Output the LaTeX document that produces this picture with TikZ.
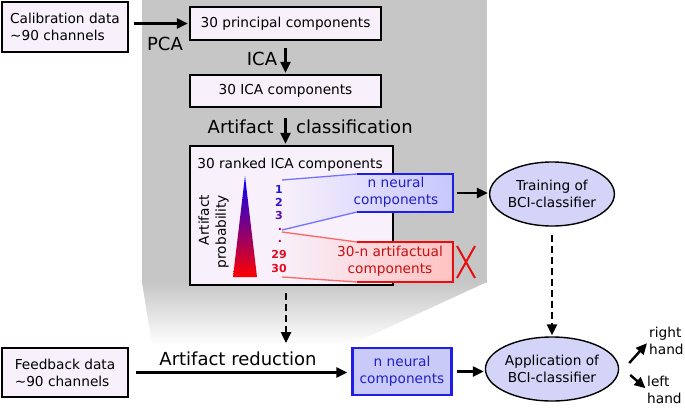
\documentclass[tikz,border=0pt]{standalone}
\usepackage{fontspec}
\setmainfont{DejaVu Sans}
\usetikzlibrary{arrows.meta,shapes.geometric,calc}
\definecolor{bgray}{HTML}{C6C6C6}
\definecolor{lav}{HTML}{F8F0FA}
\definecolor{ellfill}{HTML}{D4D4F8}
\definecolor{nnfill}{HTML}{CACAF8}
\definecolor{nblue}{HTML}{1E1EE6}
\definecolor{nred}{HTML}{E60E0E}
\definecolor{ntxtblue}{HTML}{2020C8}
\definecolor{ntxtred}{HTML}{C81010}
\definecolor{cA}{HTML}{1A1AE0}
\definecolor{cB}{HTML}{3010D0}
\definecolor{cC}{HTML}{5A10A8}
\definecolor{cD}{HTML}{8A0A70}
\definecolor{cE}{HTML}{B00A50}
\definecolor{cF}{HTML}{E80A20}
\newcommand\myfs{\fontsize{13.7}{17}\selectfont}
\newcommand\mybigfs{\fontsize{18}{20}\selectfont}
\begin{document}
\begin{tikzpicture}[x=1pt,y=-1pt,
  box/.style={draw=black, line width=2.2pt, fill=lav, inner sep=0pt, font=\myfs, align=center},
  lbl/.style={font=\mybigfs, inner sep=0pt},
  txt/.style={font=\myfs, inner sep=0pt, align=center},
  arr/.style={line width=2.4pt, -{Triangle[length=11pt,width=10pt]}},
  darr/.style={arr, dash pattern=on 7pt off 4pt},
  ell/.style={ellipse, draw=black, line width=1.4pt, fill=ellfill, minimum width=110pt, minimum height=64pt, inner sep=0pt, align=center, font=\myfs},
  num/.style={font=\fontsize{11}{12}\selectfont\bfseries, inner sep=0pt}
]
\useasboundingbox (0,0) rectangle (685,407);
% gray magnification background
\fill[bgray] (142,0) rectangle (487,283);
\shade[top color=bgray, bottom color=white] (142,282) -- (487,282) -- (350,345) -- (152,345) -- cycle;

% top chain
\node[box, minimum width=126pt, minimum height=50pt, align=left] (cal) at (65,27) {Calibration data\\\textasciitilde 90 channels};
\node[box, minimum width=191pt, minimum height=33pt] (pc) at (285.5,23.5) {30 principal components};
\node[box, minimum width=191pt, minimum height=32pt] (ica) at (285.5,91) {30 ICA components};
\node[box, minimum width=203pt, minimum height=139pt] (big) at (291.5,215.5) {};

\draw[arr, shorten <=5pt, shorten >=1pt] (cal.east |- pc.west) -- (pc.west);
\node[lbl] (pca) at (165,43.5) {PCA};
\draw[arr, shorten <=7pt, shorten >=1pt] (pc.south) -- (ica.north);
\node[lbl] (icalbl) at (262,59) {ICA};
\draw[arr, shorten <=10pt, shorten >=1pt] (ica.south) -- (ica.south |- big.north);
\node[lbl, anchor=east] (acl1) at (274,127) {Artifact};
\node[lbl, anchor=west] (acl2) at (296,127) {classification};

% inside big box
\node[font=\myfs, inner sep=0pt, anchor=base] (rk) at (290,168.5) {30 ranked ICA components};
\shade[top color=blue, bottom color=red] (245,176) -- (257,277) -- (233,277) -- cycle;
\node[txt, rotate=90, align=right] (ap) at (213.5,231.5) {Artifact\\probability};

% funnels
\shade[left color=lav, right color=blue!22] (282,180) -- (357,174) -- (453,174) -- (453,212) -- (357,212) -- (282,230) -- cycle;
\draw[blue!55, line width=1.3pt] (282,180) -- (357,174) (282,230) -- (357,212);
\draw[nblue, line width=2pt] (357,174) -- (453,174) -- (453,212) -- (357,212);
\shade[left color=lav, right color=red!24] (282,232) -- (357,242) -- (453,242) -- (453,282) -- (357,282) -- (282,277) -- cycle;
\draw[red!60, line width=1.3pt] (282,232) -- (357,242) (282,277) -- (357,282);
\draw[nred, line width=2pt] (357,242) -- (453,242) -- (453,282) -- (357,282);
\node[minimum width=96pt, minimum height=38pt, inner sep=0pt] (nnbox) at (405,193) {};
\node[txt, text=ntxtblue] (nntext) at (396,192) {n neural\\components};
\node[minimum width=96pt, minimum height=40pt, inner sep=0pt] (artbox) at (405,262) {};
\node[txt, text=ntxtred] (arttext) at (390,261) {30-n artifactual\\components};

\node[num, text=cA] (n1) at (279,189) {1};
\node[num, text=cB] (n2) at (279,202) {2};
\node[num, text=cC] (n3) at (279,215) {3};
\node[num, text=cD] (d1) at (280,229) {.};
\node[num, text=cE] (d2) at (280,241) {.};
\node[num, text=cF] (n29) at (279,254) {29};
\node[num, text=cF] (n30) at (279,268) {30};

% red cross
\draw[nred, line width=2pt] (457,246) -- (475,278) (475,246) -- (457,278);

% classifier
\node[ell] (train) at (552,194) {Training of\\BCI-classifier};
\node[ell] (app) at (552,369) {Application of\\BCI-classifier};
\draw[arr, shorten <=4pt, shorten >=1pt] (nnbox.east) -- (nnbox.east -| train.west);
\draw[darr, shorten <=8pt, shorten >=1pt] (train) -- (app);

% bottom chain
\node[box, minimum width=126pt, minimum height=49pt, align=left] (fb) at (65,372.5) {Feedback data\\\textasciitilde 90 channels};
\node[box, draw=nblue, fill=nnfill, text=ntxtblue, minimum width=99pt, minimum height=47pt] (nn2) at (402,371.5) {n neural\\components};
\coordinate (dend) at (286,343);
\draw[darr, shorten <=7pt] (big.south -| dend) -- (dend);
\draw[arr, shorten <=7pt, shorten >=4pt] (fb.east) -- (fb.east -| nn2.west);
\node[lbl] (ar) at (238,358.5) {Artifact reduction};
\draw[arr, shorten <=4pt, shorten >=1pt] (nn2.east) -- (nn2.east -| app.west);

% outputs
\node[txt, anchor=west, align=left] (rhand) at (649,341) {right\\hand};
\node[txt, anchor=west, align=left] (lhand) at (647,389.5) {left\\hand};
\draw[arr, shorten >=3pt] ([shift={(10,-6)}]app.east) -- (rhand.west);
\draw[arr, shorten >=2pt] ([shift={(11,6)}]app.east) -- (lhand.west);
\end{tikzpicture}
\end{document}
